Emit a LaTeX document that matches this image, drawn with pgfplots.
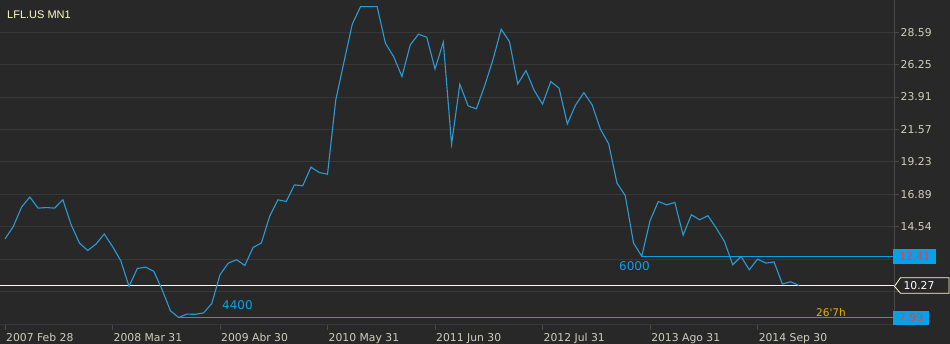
\documentclass[border=0pt]{standalone}
\usepackage{pgfplots}
\pgfplotsset{compat=1.18}
\usepackage{pgfplotstable}
\usepackage{fontspec}
\setmainfont{DejaVu Sans}
\newfontfamily\libsans{Liberation Sans}
\newfontfamily\plaindv{DejaVu Sans}
\definecolor{bg}{HTML}{282828}
\definecolor{gridc}{HTML}{383838}
\definecolor{linec}{HTML}{2B9BD3}
\definecolor{boxc}{HTML}{0AA0E8}
\definecolor{redt}{HTML}{F03C3C}
\definecolor{tickc}{HTML}{D0CEBA}
\definecolor{cream}{HTML}{FFFFC8}
\definecolor{gold}{HTML}{E8B400}
\definecolor{axc}{HTML}{4A4A4A}

\pgfplotstableread{
i v
0 13.66
1 14.56
2 15.96
3 16.69
4 15.89
5 15.93
6 15.89
7 16.49
8 14.69
9 13.37
10 12.83
11 13.29
12 14.02
13 13.12
14 12.09
15 10.24
16 11.53
17 11.63
18 11.32
19 10.00
20 8.48
21 7.99
22 8.24
23 8.22
24 8.32
25 8.99
26 11.08
27 11.92
28 12.16
29 11.75
30 13.05
31 13.37
32 15.29
33 16.49
34 16.37
35 17.57
36 17.50
37 18.85
38 18.46
39 18.34
40 23.71
41 26.47
42 29.19
43 30.44
44 30.44
45 30.44
46 27.80
47 26.83
48 25.39
49 27.67
50 28.45
51 28.23
52 25.94
53 27.87
54 20.51
55 24.84
56 23.27
57 23.06
58 24.72
59 26.59
60 28.81
61 27.91
62 24.86
63 25.82
64 24.38
65 23.40
66 25.03
67 24.55
68 21.97
69 23.34
70 24.23
71 23.34
72 21.59
73 20.53
74 17.70
75 16.80
76 13.37
77 12.41
78 14.98
79 16.37
80 16.13
81 16.30
82 13.94
83 15.41
84 15.05
85 15.34
86 14.45
87 13.48
88 11.80
89 12.40
90 11.44
91 12.21
92 11.92
93 12.00
94 10.41
95 10.57
96 10.31
}\pricedata

\begin{document}
\begin{tikzpicture}
\fill[bg] (0pt,-19pt) rectangle (950pt,325pt);
\begin{axis}[
  at={(0pt,0pt)}, anchor=south west,
  scale only axis, width=894pt, height=325pt,
  xmin=-0.6046, xmax=107.5, ymin=7.45, ymax=30.92,
  axis line style={draw=none},
  xtick pos=left, ytick pos=right, yticklabel pos=right,
  tick align=outside, major tick length=5pt,
  tick style={draw=axc, line width=0.8pt},
  ymajorgrids, grid style={draw=gridc, line width=1pt},
  xtick={0,13,26,39,52,65,78,91},
  xticklabels={2007 Feb 28,2008 Mar 31,2009 Abr 30,2010 May 31,2011 Jun 30,2012 Jul 31,2013 Ago 31,2014 Sep 30},
  ytick={7.52,9.86,12.20,14.54,16.89,19.23,21.57,23.91,26.25,28.59},
  yticklabels={,,,14.54,16.89,19.23,21.57,23.91,26.25,28.59},
  xticklabel style={anchor=north west, inner sep=0pt, xshift=1pt, yshift=-3pt, text=tickc, font=\fontsize{10.8}{12}\selectfont},
  yticklabel style={anchor=west, inner sep=0pt, xshift=1.5pt, text=tickc, font=\fontsize{10.8}{12}\selectfont},
  clip=false,
]
\draw[axc, line width=1pt] (rel axis cs:1,0) -- (rel axis cs:1,1);
\addplot[cream, line width=1.1pt] coordinates {(-0.6046,10.27) (107.5,10.27)};
\addplot[boxc, line width=1.1pt] coordinates {(77,12.41) (107.5,12.41)};
\addplot[boxc, line width=1.1pt] coordinates {(21,7.99) (107.5,7.99)};
\addplot[linec, line width=1.1pt] table[x=i,y=v]{\pricedata};
\end{axis}
\node[anchor=west, text=cream, font=\libsans\fontsize{11}{13}\selectfont, inner sep=0pt] at (7pt,310pt) {LFL.US MN1};
\node[anchor=west, text=boxc, font=\fontsize{12}{14}\selectfont, inner sep=0pt] at (222pt,20pt) {4400};
\node[anchor=west, text=boxc, font=\fontsize{12}{14}\selectfont, inner sep=0pt] at (619pt,59pt) {6000};
\node[anchor=west, text=gold, font=\plaindv\fontsize{10.5}{12}\selectfont, inner sep=0pt] at (816pt,12pt) {26'7h};
\node[anchor=west, fill=boxc, text=redt, inner xsep=6pt, inner ysep=0pt, minimum height=15pt, font=\fontsize{10.8}{12}\selectfont] at (893pt,68.7pt) {12.41};
\node[anchor=west, fill=boxc, text=redt, inner xsep=6pt, inner ysep=0pt, minimum height=14.3pt, font=\fontsize{10.8}{12}\selectfont] at (893pt,7.15pt) {7.99};
\filldraw[draw=cream, fill=bg, line width=0.8pt] (894.5pt,38.7pt) -- (900.5pt,47.3pt) -- (949pt,47.3pt) -- (949pt,31.7pt) -- (900.5pt,31.7pt) -- cycle;
\node[text=white, font=\fontsize{10.8}{12}\selectfont, inner sep=0pt] at (919pt,39.5pt) {10.27};
\pgfresetboundingbox
\useasboundingbox (0pt,-19pt) rectangle (950pt,325pt);
\end{tikzpicture}
\end{document}
